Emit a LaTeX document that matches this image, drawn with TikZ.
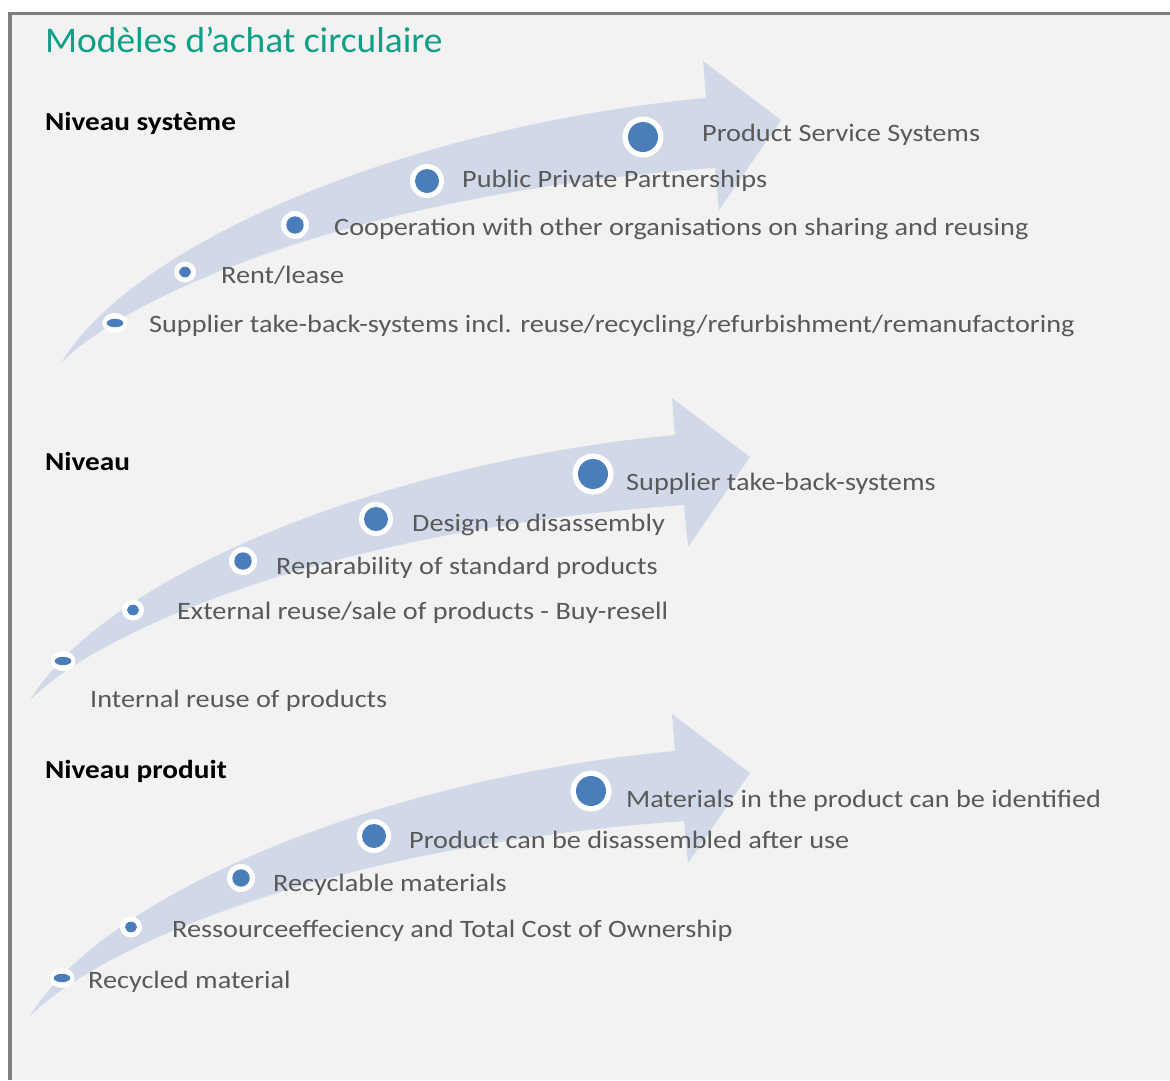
\documentclass[tikz,border=0pt]{standalone}
\usepackage{fontspec}
\setmainfont{Carlito}
\newfontfamily\itemfont[FakeStretch=1.13]{Carlito}
\newfontfamily\headfont[FakeStretch=1.125]{Carlito}
\newfontfamily\titlefont[FakeStretch=1.04]{Carlito}
\definecolor{bgc}{HTML}{F2F2F2}
\definecolor{framec}{HTML}{7F7F7F}
\definecolor{arrowc}{HTML}{D1D9E8}
\definecolor{dotc}{HTML}{4A7EBB}
\definecolor{txtc}{HTML}{595959}
\definecolor{titlec}{HTML}{0E9F85}
\newcommand\ringdot[7]{%
  \fill[white] (#1,#2) ellipse [x radius=#5pt, y radius=#6pt];
  \fill[dotc] (#1,#2) ellipse [x radius=#3pt, y radius=#4pt];
  \coordinate (#7) at (#1,#2);}
\newcommand\arrowshape{(30,700) .. controls (110,570) and (400,460) .. (675,435) -- (672,398) -- (750,457) -- (688,547) -- (684,505) .. controls (330,530) and (100,630) .. (30,700) -- cycle}
\begin{document}
\begin{tikzpicture}[x=1pt,y=-1pt,
  item/.style={anchor=base west, inner sep=0pt, text=txtc, font=\itemfont\fontsize{25}{29}\selectfont},
  head/.style={anchor=base west, inner sep=0pt, text=black, font=\headfont\fontsize{26}{30}\selectfont\bfseries},
  band/.style={fill=arrowc}]
\useasboundingbox (0,0) rectangle (1170,1080);
\fill[white] (0,0) rectangle (1170,1080);
\fill[bgc] (8,12) rectangle (1170,1080);
\fill[framec] (8,12) rectangle (1170,15);
\fill[framec] (8,12) rectangle (12,1080);

\node[anchor=base west, inner sep=0pt, text=titlec, font=\titlefont\fontsize{36}{40}\selectfont] (title) at (45,52) {Modèles d’achat circulaire};

% arrows
\fill[band, shift={(31,-337)}] \arrowshape;
\fill[band] \arrowshape;
\fill[band, shift={(0,316)}] \arrowshape;

% headers
\node[head] (h1) at (45,130) {Niveau système};
\node[head] (h2) at (45,470) {Niveau};
\node[head] (h3) at (45,778) {Niveau produit};

% arrow 1 dots
\ringdot{115}{323}{8.3}{4.2}{12.5}{10}{a1}
\ringdot{185}{272}{6}{5.3}{11}{10.5}{a2}
\ringdot{295}{225}{8.7}{8.7}{14}{14}{a3}
\ringdot{427}{181}{12}{12}{17}{17}{a4}
\ringdot{643}{137}{15}{15}{20.5}{20.5}{a5}
% arrow 2 dots
\ringdot{63}{661}{8.3}{4.2}{12.5}{10}{b1}
\ringdot{133}{610}{6}{5.3}{11}{10.5}{b2}
\ringdot{243}{561}{8.7}{8.7}{14}{14}{b3}
\ringdot{376}{519}{12}{12}{17}{17}{b4}
\ringdot{593}{474}{15}{15}{20.5}{20.5}{b5}
% arrow 3 dots
\ringdot{62}{978}{8.3}{4.2}{12.5}{10}{c1}
\ringdot{131}{927}{6}{5.3}{11}{10.5}{c2}
\ringdot{241}{878}{8.7}{8.7}{14}{14}{c3}
\ringdot{374}{836}{12}{12}{17}{17}{c4}
\ringdot{591}{791}{15}{15}{20.5}{20.5}{c5}

% arrow 1 texts
\node[item] (ta5) at (702,141) {Product Service Systems};
\node[item] (ta4) at (462,187) {Public Private Partnerships};
\node[item] (ta3) at (334,235) {Cooperation with other organisations on sharing and reusing};
\node[item] (ta2) at (221,283) {Rent/lease};
\node[item] (ta1) at (149,332) {Supplier take-back-systems incl. reuse/recycling/refurbishment/remanufactoring};
% arrow 2 texts
\node[item] (tb5) at (626,490) {Supplier take-back-systems};
\node[item] (tb4) at (412,531) {Design to disassembly};
\node[item] (tb3) at (276,574) {Reparability of standard products};
\node[item] (tb2) at (177,619) {External reuse/sale of products - Buy-resell};
\node[item] (tb1) at (90,707) {Internal reuse of products};
% arrow 3 texts
\node[item] (tc5) at (626,807) {Materials in the product can be identified};
\node[item] (tc4) at (409,848) {Product can be disassembled after use};
\node[item] (tc3) at (273,891) {Recyclable materials};
\node[item] (tc2) at (172,937) {Ressourceeffeciency and Total Cost of Ownership};
\node[item] (tc1) at (88,988) {Recycled material};
\end{tikzpicture}
\end{document}
